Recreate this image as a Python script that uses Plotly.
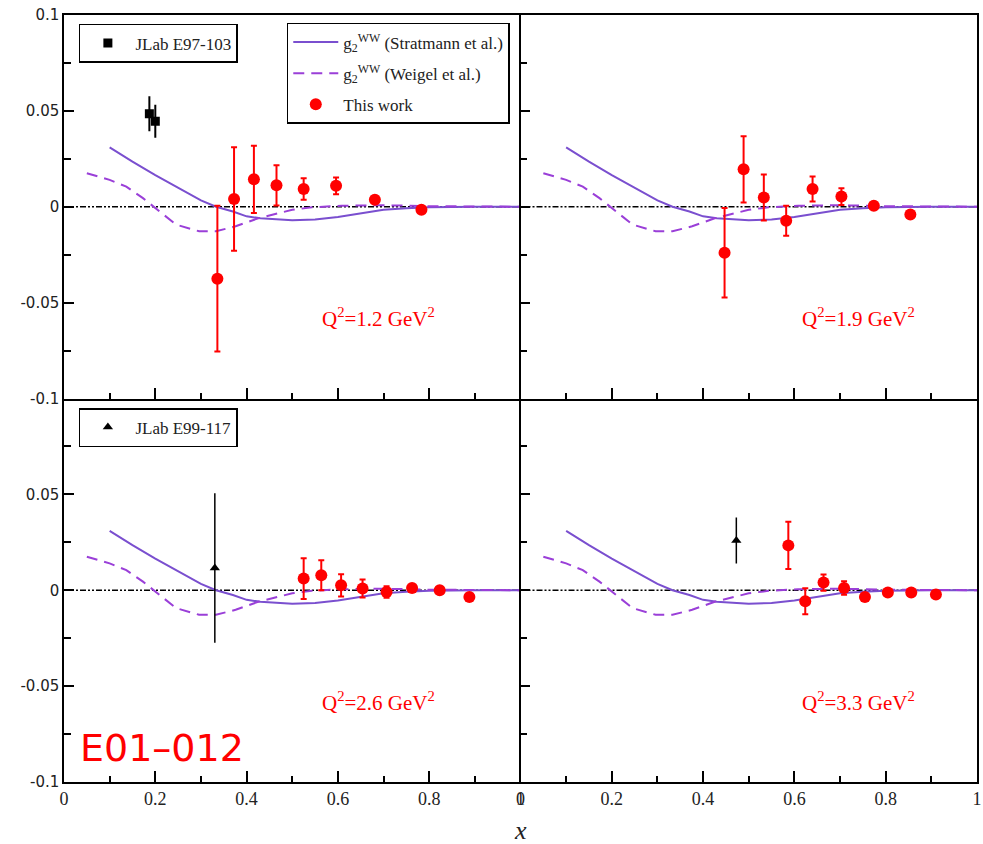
import plotly.graph_objects as go

# ---------------- data ----------------
# theory curves (same in every panel)
ww_x_strat = [0.10, 0.15, 0.20, 0.25, 0.30, 0.333, 0.37, 0.40, 0.43, 0.50, 0.55, 0.60, 0.65, 0.70, 0.75, 0.80, 0.90, 1.00]
ww_y_strat = [0.031, 0.0235, 0.0165, 0.0098, 0.0033, 0.0, -0.0025, -0.005, -0.006, -0.0071, -0.0066, -0.0053, -0.0035, -0.0016, -0.0008, -0.0003, 0.0, 0.0]
ww_x_weigel = [0.05, 0.10, 0.1365, 0.173, 0.209, 0.2455, 0.296, 0.333, 0.376, 0.427, 0.50, 0.543, 0.608, 0.70, 0.80, 0.90, 1.00]
ww_y_weigel = [0.0175, 0.014, 0.0105, 0.0045, -0.0024, -0.0093, -0.0128, -0.0128, -0.0102, -0.0059, -0.0016, -0.0003, 0.0005, 0.0008, 0.0003, 0.0, 0.0]

# This work (E01-012)
p1_x = [0.336, 0.3725, 0.416, 0.4655, 0.525, 0.596, 0.681, 0.783]
p1_y = [-0.0375, 0.004, 0.0143, 0.0112, 0.0092, 0.0109, 0.0036, -0.0016]
p1_e = [0.038, 0.027, 0.0175, 0.0105, 0.0056, 0.0044, 0.0015, 0.0012]

p2_x = [0.447, 0.4887, 0.533, 0.582, 0.6398, 0.703, 0.774, 0.854]
p2_y = [-0.024, 0.0195, 0.0048, -0.0073, 0.0093, 0.0053, 0.0005, -0.0041]
p2_e = [0.0233, 0.0173, 0.012, 0.0078, 0.0065, 0.0044, 0.0018, 0.0012]

p3_x = [0.525, 0.5636, 0.607, 0.654, 0.7066, 0.7625, 0.823, 0.888]
p3_y = [0.0061, 0.0078, 0.0026, 0.0009, -0.0009, 0.0012, 0.0, -0.0035]
p3_e = [0.0106, 0.0078, 0.0058, 0.0047, 0.003, 0.002, 0.0018, 0.0012]

p4_x = [0.5867, 0.6238, 0.6638, 0.7088, 0.7545, 0.8047, 0.856, 0.91]
p4_y = [0.0234, -0.0057, 0.004, 0.0012, -0.0035, -0.0012, -0.0012, -0.0022]
p4_e = [0.0123, 0.0068, 0.0042, 0.0035, 0.0015, 0.0012, 0.0012, 0.0012]

# other JLab data
e97_x = [0.187, 0.200]
e97_y = [0.0485, 0.0446]
e97_e = [0.0091, 0.0086]

e99_x3 = [0.3304]
e99_y3 = [0.0116]
e99_e3 = [0.039]
e99_x4 = [0.4728]
e99_y4 = [0.026]
e99_e4 = [0.012]

q2_labels = ["Q<sup>2</sup>=1.2 GeV<sup>2</sup>", "Q<sup>2</sup>=1.9 GeV<sup>2</sup>",
             "Q<sup>2</sup>=2.6 GeV<sup>2</sup>", "Q<sup>2</sup>=3.3 GeV<sup>2</sup>"]

x_ticks = [0, 0.2, 0.4, 0.6, 0.8, 1]
x_tick_text = ["0", "0.2", "0.4", "0.6", "0.8", "1"]
y_ticks_top = [-0.1, -0.05, 0, 0.05, 0.1]
y_ticks_top_text = ["-0.1", "-0.05", "0", "0.05", "0.1"]
y_ticks_bot = [-0.1, -0.05, 0, 0.05]
y_ticks_bot_text = ["-0.1", "-0.05", "0", "0.05"]

# ---------------- style ----------------
RED = "#ff0000"
SOLID_C = "#7a4fcf"
DASH_C = "#9a3fd8"
SERIF = "Liberation Serif"

fig = go.Figure()

panels = [
    ("x", "y", p1_x, p1_y, p1_e),
    ("x2", "y2", p2_x, p2_y, p2_e),
    ("x3", "y3", p3_x, p3_y, p3_e),
    ("x4", "y4", p4_x, p4_y, p4_e),
]

for i, (xa, ya, dx, dy, de) in enumerate(panels):
    first = i == 0
    fig.add_trace(go.Scatter(
        x=ww_x_strat, y=ww_y_strat, mode="lines", xaxis=xa, yaxis=ya,
        line=dict(color=SOLID_C, width=2),
        name="g<sub>2</sub><sup>WW</sup> (Stratmann et al.)",
        showlegend=first, legend="legend", legendrank=1, legendgroup="s"))
    fig.add_trace(go.Scatter(
        x=ww_x_weigel, y=ww_y_weigel, mode="lines", xaxis=xa, yaxis=ya,
        line=dict(color=DASH_C, width=2, dash="11px,7px"),
        name="g<sub>2</sub><sup>WW</sup> (Weigel et al.)",
        showlegend=first, legend="legend", legendrank=2, legendgroup="w"))
    fig.add_trace(go.Scatter(
        x=dx, y=dy, mode="markers", xaxis=xa, yaxis=ya,
        marker=dict(color=RED, size=12, symbol="circle"),
        error_y=dict(type="data", array=de, color=RED, thickness=2, width=3),
        name="This work", showlegend=first, legend="legend", legendrank=3, legendgroup="t"))
    # zero reference line
    fig.add_shape(type="line", xref=f"{xa} domain", yref=ya, x0=0, x1=1, y0=0, y1=0,
                  line=dict(color="black", width=1.5, dash="6px,2px,2px,2px,2px,2px"),
                  layer="below")

fig.add_trace(go.Scatter(
    x=e97_x, y=e97_y, mode="markers", xaxis="x", yaxis="y",
    marker=dict(color="black", size=9, symbol="square"),
    error_y=dict(type="data", array=e97_e, color="black", thickness=2, width=0),
    name="JLab E97-103", showlegend=True, legend="legend2"))
fig.add_trace(go.Scatter(
    x=e99_x3, y=e99_y3, mode="markers", xaxis="x3", yaxis="y3",
    marker=dict(color="black", size=9, symbol="triangle-up"),
    error_y=dict(type="data", array=e99_e3, color="black", thickness=1.5, width=0),
    name="JLab E99-117", showlegend=True, legend="legend3"))
fig.add_trace(go.Scatter(
    x=e99_x4, y=e99_y4, mode="markers", xaxis="x4", yaxis="y4",
    marker=dict(color="black", size=9, symbol="triangle-up"),
    error_y=dict(type="data", array=e99_e4, color="black", thickness=1.5, width=0),
    name="JLab E99-117", showlegend=False))

# ---------------- axes ----------------
def xaxis(domain, anchor, labels, mirror):
    return dict(domain=domain, anchor=anchor, range=[0, 1],
                tickvals=x_ticks, ticktext=x_tick_text, showticklabels=labels,
                ticks="inside", ticklen=11, tickwidth=1.5, tickcolor="black",
                minor=dict(ticks="inside", ticklen=6, tickwidth=1.5, dtick=0.1, tick0=0, tickcolor="black"),
                showline=True, linecolor="black", linewidth=1.5, mirror=mirror,
                showgrid=False, zeroline=False,
                tickfont=dict(family=SERIF, size=18, color="#222"))

def yaxis(domain, anchor, labels, tv, tt, mirror):
    return dict(domain=domain, anchor=anchor, range=[-0.1, 0.1],
                tickvals=tv, ticktext=tt, showticklabels=labels,
                ticks="inside", ticklen=10, tickwidth=1.5, tickcolor="black",
                minor=dict(ticks="inside", ticklen=7, tickwidth=1.5, dtick=0.025, tick0=0, tickcolor="black"),
                showline=True, linecolor="black", linewidth=1.5, mirror=mirror,
                showgrid=False, zeroline=False,
                tickfont=dict(family="DejaVu Sans", size=15, color="#222"))

fig.update_layout(
    width=983, height=844,
    margin=dict(l=64, r=1, t=15, b=62),
    paper_bgcolor="white", plot_bgcolor="white",
    xaxis=xaxis([0, 0.5], "y", False, True),
    xaxis2=xaxis([0.5, 1], "y2", False, True),
    xaxis3=xaxis([0, 0.5], "y3", True, False),
    xaxis4=xaxis([0.5, 1], "y4", True, False),
    yaxis=yaxis([0.5, 1], "x", True, y_ticks_top, y_ticks_top_text, False),
    yaxis2=yaxis([0.5, 1], "x2", False, y_ticks_top, y_ticks_top_text, True),
    yaxis3=yaxis([0, 0.5], "x3", True, y_ticks_bot, y_ticks_bot_text, False),
    yaxis4=yaxis([0, 0.5], "x4", False, y_ticks_bot, y_ticks_bot_text, True),
    legend=dict(x=0.244, y=0.9896, xanchor="left", yanchor="top",
                bgcolor="white", bordercolor="black", borderwidth=1.5,
                font=dict(family=SERIF, size=17, color="#222"),
                itemwidth=45, tracegroupgap=6, traceorder="grouped"),
    legend2=dict(x=0.0163, y=0.9883, xanchor="left", yanchor="top",
                 bgcolor="white", bordercolor="black", borderwidth=1.5,
                 font=dict(family=SERIF, size=17, color="#222"), itemwidth=45),
    legend3=dict(x=0.0163, y=0.4876, xanchor="left", yanchor="top",
                 bgcolor="white", bordercolor="black", borderwidth=1.5,
                 font=dict(family=SERIF, size=17, color="#222"), itemwidth=45),
    showlegend=True,
)

# Q^2 labels
q2_pos = [("x", "y", 0.688), ("x2", "y2", 0.741), ("x3", "y3", 0.688), ("x4", "y4", 0.741)]
for (xa, ya, xp), txt in zip(q2_pos, q2_labels):
    fig.add_annotation(x=xp, y=-0.058, xref=xa, yref=ya, text=txt, showarrow=False,
                       xanchor="center", yanchor="middle",
                       font=dict(family=SERIF, size=21, color=RED))

fig.add_annotation(x=0.1068, y=0.0443, xref="paper", yref="paper", text="E01–012",
                   showarrow=False, xanchor="center", yanchor="middle",
                   font=dict(family="DejaVu Sans", size=38, color=RED))
fig.add_annotation(x=0.5, y=-0.0626, xref="paper", yref="paper", text="<i>x</i>",
                   showarrow=False, xanchor="center", yanchor="middle",
                   font=dict(family=SERIF, size=26, color="#222"))

fig.write_html("out.html")
